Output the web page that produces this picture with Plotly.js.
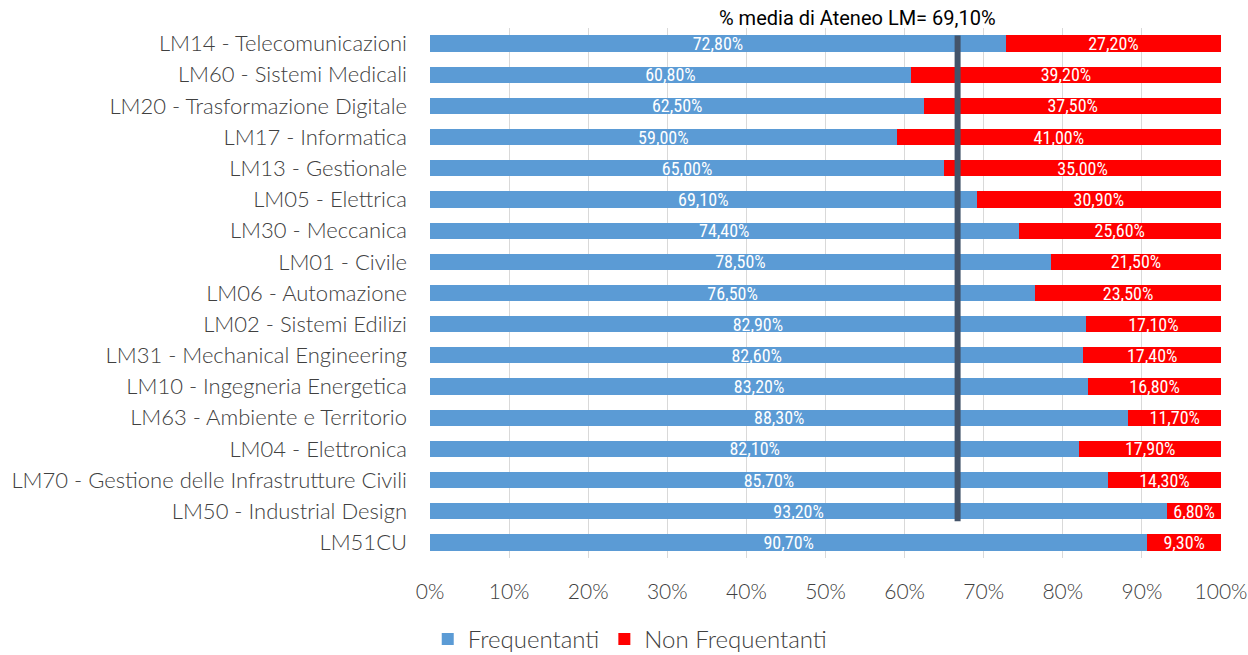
<!DOCTYPE html>
<html>
<head>
<meta charset="utf-8">
<script src="https://cdn.plot.ly/plotly-3.0.1.min.js"></script>
<style>html,body{margin:0;padding:0;background:#fff;}#chart{width:1248px;height:655px;}</style>
</head>
<body>
<div id="chart"></div>
<script>
const categories = [
  "LM14 - Telecomunicazioni",
  "LM60 - Sistemi Medicali",
  "LM20 - Trasformazione Digitale",
  "LM17 - Informatica",
  "LM13 - Gestionale",
  "LM05 - Elettrica",
  "LM30 - Meccanica",
  "LM01 - Civile",
  "LM06 - Automazione",
  "LM02 - Sistemi Edilizi",
  "LM31 - Mechanical Engineering",
  "LM10 - Ingegneria Energetica",
  "LM63 - Ambiente e Territorio",
  "LM04 - Elettronica",
  "LM70 - Gestione delle Infrastrutture Civili",
  "LM50 - Industrial Design",
  "LM51CU"
];
const frequentanti = [72.8, 60.8, 62.5, 59.0, 65.0, 69.1, 74.4, 78.5, 76.5, 82.9, 82.6, 83.2, 88.3, 82.1, 85.7, 93.2, 90.7];
const nonFrequentanti = [27.2, 39.2, 37.5, 41.0, 35.0, 30.9, 25.6, 21.5, 23.5, 17.1, 17.4, 16.8, 11.7, 17.9, 14.3, 6.8, 9.3];
const mediaLineX = 66.7;
const mediaLabel = "% media di Ateneo LM= 69,10%";

const common = {
  type: 'bar', orientation: 'h', y: categories,
  texttemplate: '%{x:.2f}%', textposition: 'inside', insidetextanchor: 'middle',
  constraintext: 'none',
  textfont: {color: '#ffffff', size: 18, family: 'Liberation Sans Narrow, Roboto Condensed, Roboto, sans-serif'},
  hoverinfo: 'x+y'
};
const traces = [
  Object.assign({}, common, {name: 'Frequentanti', x: frequentanti, marker: {color: '#5B9BD5'}}),
  Object.assign({}, common, {name: 'Non Frequentanti', x: nonFrequentanti, marker: {color: '#FF0000'}})
];
const layout = {
  width: 1248, height: 655,
  barmode: 'stack', bargap: 0.48,
  separators: ',.',
  margin: {l: 430, r: 27, t: 28, b: 97, autoexpand: false},
  paper_bgcolor: '#ffffff', plot_bgcolor: '#ffffff',
  font: {family: 'Lato, Open Sans, sans-serif', color: '#404040'},
  xaxis: {range: [0, 100], dtick: 10, ticksuffix: '%', showgrid: true, gridcolor: '#D9D9D9', gridwidth: 1,
          zeroline: false, showline: false, ticks: '', ticklen: 0, ticklabelstandoff: 19,
          tickfont: {size: 21, color: '#404040', family: 'Lato, sans-serif', weight: 300}},
  yaxis: {autorange: 'reversed', showgrid: false, zeroline: false, showline: false, ticks: '',
          ticklabelstandoff: 22,
          tickfont: {size: 22, color: '#404040', family: 'Lato, sans-serif', weight: 300}},
  showlegend: true,
  legend: {orientation: 'h', xref: 'container', yref: 'container', x: 0.505, xanchor: 'center', y: 0.024, yanchor: 'middle',
           font: {size: 24, color: '#404040', family: 'Lato, sans-serif', weight: 300}, traceorder: 'normal', itemwidth: 30},
  shapes: [{type: 'line', xref: 'x', yref: 'y', x0: mediaLineX, x1: mediaLineX, y0: -0.26, y1: 15.32,
            line: {color: '#44546A', width: 6}}],
  annotations: [{text: mediaLabel, xref: 'paper', yref: 'paper', x: 0.541, y: 1.0, yanchor: 'bottom', yshift: -4,
                 showarrow: false, font: {size: 20, color: '#000000', family: 'Liberation Sans Narrow, Roboto, sans-serif'}}]
};
Plotly.newPlot('chart', traces, layout, {displayModeBar: false});
</script>
</body>
</html>
